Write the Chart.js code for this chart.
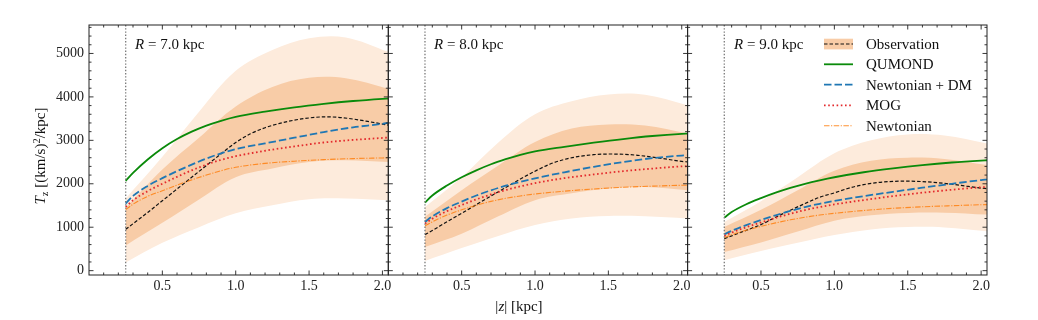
<!DOCTYPE html>
<html><head><meta charset="utf-8">
<script src="https://cdn.jsdelivr.net/npm/chart.js@4/dist/chart.umd.min.js"></script>
<style>
body{margin:0;background:#fff;width:1038px;height:320px;overflow:hidden;position:relative;}
canvas{position:absolute;left:0;top:0;}
svg{position:absolute;left:0;top:0;pointer-events:none;}
svg text{font-family:"Liberation Serif",serif;font-size:15px;fill:#111;}
</style></head><body>
<canvas id="c1" width="1038" height="320"></canvas>
<canvas id="c2" width="1038" height="320"></canvas>
<canvas id="c3" width="1038" height="320"></canvas>
<svg width="1038" height="320" id="ov">
  <text transform="translate(45,156) rotate(-90)" text-anchor="middle"><tspan font-style="italic">T</tspan><tspan dy="3" font-size="10.5">z</tspan><tspan dy="-3"> [(km/s)</tspan><tspan dy="-5" font-size="10.5">2</tspan><tspan dy="5">/kpc]</tspan></text>
  <text x="519" y="311" text-anchor="middle">|<tspan font-style="italic">z</tspan>| [kpc]</text>
  <text x="135" y="49"><tspan font-style="italic">R</tspan> = 7.0 kpc</text>
  <text x="434" y="49"><tspan font-style="italic">R</tspan> = 8.0 kpc</text>
  <text x="734" y="49"><tspan font-style="italic">R</tspan> = 9.0 kpc</text>
  <rect x="824" y="38.7" width="29" height="10.7" fill="#f8cca7"/>
  <line x1="824" y1="44" x2="853" y2="44" stroke="#111" stroke-width="1.2" stroke-dasharray="3.5 2"/>
  <line x1="824" y1="64.3" x2="853" y2="64.3" stroke="#0a8a0a" stroke-width="1.8"/>
  <line x1="824" y1="84.7" x2="853" y2="84.7" stroke="#1f77b4" stroke-width="1.8" stroke-dasharray="7.5 3"/>
  <line x1="824" y1="105.3" x2="853" y2="105.3" stroke="#e3292c" stroke-width="1.8" stroke-dasharray="1.6 2.6"/>
  <line x1="824" y1="125.7" x2="853" y2="125.7" stroke="rgba(255,127,14,0.85)" stroke-width="1.1" stroke-dasharray="5.5 1.5 1.2 1.5"/>
  <text x="866" y="49">Observation</text>
  <text x="866" y="69.3">QUMOND</text>
  <text x="866" y="89.7">Newtonian + DM</text>
  <text x="866" y="110.3">MOG</text>
  <text x="866" y="130.7">Newtonian</text>
</svg>
<script>
// ---- data ----
const zLine = [0.25,0.3,0.4,0.5,0.6,0.7,0.8,0.9,1.0,1.2,1.4,1.6,1.8,2.0,2.04];
const zObs  = [0.25,0.3,0.4,0.5,0.6,0.7,0.8,0.9,1.0,1.1,1.2,1.3,1.4,1.5,1.6,1.7,1.8,1.9,2.0,2.04];
const zBand = [0.25,0.5,0.75,1.0,1.25,1.5,1.75,2.04];
const zCut = 0.25;
const xTickLabels = [0.5,1.0,1.5,2.0];
const yTickLabels = [0,1000,2000,3000,4000,5000];

// R = 7 kpc
const qumond7 = [2066,2250,2560,2820,3030,3200,3340,3450,3540,3660,3760,3840,3905,3955,3963];
const newtdm7 = [1544,1720,1950,2130,2290,2440,2580,2700,2800,2930,3060,3190,3300,3380,3402];
const mog7    = [1467,1620,1830,2000,2160,2310,2440,2550,2635,2760,2860,2950,3010,3055,3064];
const newt7   = [1405,1530,1710,1840,1970,2090,2200,2300,2380,2470,2520,2555,2580,2595,2598];
const obs7    = [952,1080,1340,1610,1880,2150,2420,2690,2950,3150,3290,3390,3465,3515,3540,3530,3490,3435,3375,3349];
const lightHi7 = [1660,2620,3660,4600,5080,5350,5370,5040];
const lightLo7 = [190,640,1000,1320,1505,1645,1660,1620];
const darkHi7  = [1450,2330,3060,3780,4230,4440,4430,4190];
const darkLo7  = [580,1100,1640,2150,2350,2500,2540,2500];

// R = 8 kpc
const qumond8 = [1567,1730,1960,2150,2310,2450,2565,2665,2745,2850,2945,3030,3100,3150,3156];
const newtdm8 = [1121,1250,1440,1590,1730,1850,1955,2045,2125,2265,2390,2500,2590,2650,2657];
const mog8    = [1083,1195,1370,1510,1640,1755,1855,1940,2015,2130,2215,2290,2350,2400,2404];
const newt8   = [1029,1125,1280,1400,1505,1595,1665,1720,1765,1830,1880,1920,1945,1965,1966];
const obs8    = [829,925,1125,1320,1520,1718,1915,2110,2290,2450,2560,2630,2670,2685,2680,2655,2615,2565,2515,2504];
const lightHi8 = [1467,2150,2950,3600,3900,4055,4050,3810];
const lightLo8 = [223,520,800,1050,1200,1260,1250,1200];
const darkHi8  = [1240,1850,2420,2960,3270,3365,3340,3160];
const darkLo8  = [545,850,1250,1620,1780,1890,1925,1850];

// R = 9 kpc
const qumond9 = [1221,1350,1530,1670,1795,1905,2000,2080,2150,2265,2355,2430,2490,2535,2542];
const newtdm9 = [837,915,1050,1165,1275,1375,1465,1540,1605,1715,1815,1910,2000,2085,2097];
const mog9    = [799,875,1000,1110,1215,1310,1395,1465,1525,1625,1715,1795,1862,1920,1928];
const newt9   = [760,825,930,1020,1100,1170,1230,1280,1320,1385,1435,1470,1495,1518,1520];
const obs9    = [737,800,930,1060,1230,1390,1545,1690,1790,1900,1980,2030,2055,2060,2050,2025,1990,1945,1900,1889];
const lightHi9 = [1120,1600,2150,2700,3000,3135,3110,2925];
const lightLo9 = [238,450,640,820,950,1005,995,906];
const darkHi9  = [1006,1400,1850,2300,2530,2600,2570,2430];
const darkLo9  = [430,650,900,1150,1275,1330,1335,1290];

// ---- style / layout ----
const FONT = '"Liberation Serif", serif';
const LIGHT = '#fdebdc', DARK = '#f8cca7';
const panelLeft = [89, 388.3, 687.6], panelRight = [388.3, 687.6, 987];

const panels = [
  {qumond:qumond7,newtdm:newtdm7,mog:mog7,newt:newt7,obs:obs7,lightHi:lightHi7,lightLo:lightLo7,darkHi:darkHi7,darkLo:darkLo7},
  {qumond:qumond8,newtdm:newtdm8,mog:mog8,newt:newt8,obs:obs8,lightHi:lightHi8,lightLo:lightLo8,darkHi:darkHi8,darkLo:darkLo8},
  {qumond:qumond9,newtdm:newtdm9,mog:mog9,newt:newt9,obs:obs9,lightHi:lightHi9,lightLo:lightLo9,darkHi:darkHi9,darkLo:darkLo9}
];

const pts = (zs, vs) => zs.map((z, i) => ({x: z, y: vs[i]}));

const framePlugin = {
  id: 'frame',
  afterDatasetsDraw(chart) {
    const {ctx, chartArea: a, scales: {x, y}} = chart;
    ctx.save();
    const xv = x.getPixelForValue(zCut);
    ctx.strokeStyle = '#7a7a7a'; ctx.lineWidth = 1.3; ctx.setLineDash([1.4, 1.8]);
    ctx.beginPath(); ctx.moveTo(xv, a.top); ctx.lineTo(xv, a.bottom); ctx.stroke();
    ctx.setLineDash([]);
    ctx.strokeStyle = '#222'; ctx.lineWidth = 0.9;
    const MAJ = 4.5, MIN = 2.5;
    ctx.beginPath();
    for (let k = 1; k <= 20; k++) {
      const v = k / 10;
      const major = xTickLabels.some(t => Math.abs(t - v) < 1e-6);
      const L = major ? MAJ : MIN;
      const px = x.getPixelForValue(v);
      ctx.moveTo(px, a.bottom); ctx.lineTo(px, a.bottom - L);
      ctx.moveTo(px, a.top); ctx.lineTo(px, a.top + L);
    }
    for (let v = 0; v <= 5600; v += 200) {
      const major = v % 1000 === 0;
      const L = major ? MAJ : MIN;
      const py = y.getPixelForValue(v);
      ctx.moveTo(a.left, py); ctx.lineTo(a.left + L, py);
      ctx.moveTo(a.right, py); ctx.lineTo(a.right - L, py);
    }
    ctx.stroke();
    ctx.strokeStyle = '#222'; ctx.lineWidth = 1;
    ctx.strokeRect(a.left, a.top, a.right - a.left, a.bottom - a.top);
    ctx.restore();
  }
};

const none = 'rgba(0,0,0,0)';
const band = {borderColor: none, borderWidth: 0, cubicInterpolationMode: 'default', tension: 0.35};

panels.forEach((p, idx) => {
  const first = idx === 0;
  new Chart(document.getElementById('c' + (idx + 1)), {
    type: 'line',
    data: {datasets: [
      {...band, data: pts(zBand, p.lightHi), fill: '+1', backgroundColor: LIGHT, order: 5},
      {...band, data: pts(zBand, p.lightLo), fill: false, order: 5},
      {...band, data: pts(zBand, p.darkHi), fill: '+1', backgroundColor: DARK, order: 4},
      {...band, data: pts(zBand, p.darkLo), fill: false, order: 4},
      {data: pts(zObs, p.obs), borderColor: '#111', borderWidth: 1.2, borderDash: [3.5, 2], order: 1},
      {data: pts(zLine, p.newt), borderColor: 'rgba(255,127,14,0.85)', borderWidth: 1.1, borderDash: [5.5, 1.5, 1.2, 1.5], order: 0},
      {data: pts(zLine, p.mog), borderColor: '#e3292c', borderWidth: 1.8, borderDash: [1.6, 2.6], order: 0},
      {data: pts(zLine, p.newtdm), borderColor: '#1f77b4', borderWidth: 1.8, borderDash: [7.5, 3], order: 0},
      {data: pts(zLine, p.qumond), borderColor: '#0a8a0a', borderWidth: 1.8, order: 0}
    ]},
    options: {
      responsive: false, animation: false, events: [],
      layout: {padding: {left: first ? 40 : panelLeft[idx], right: 1038 - panelRight[idx], top: 25, bottom: 20}},
      elements: {point: {radius: 0}, line: {cubicInterpolationMode: 'monotone', fill: false}},
      plugins: {legend: {display: false}, tooltip: {enabled: false}},
      scales: {
        x: {type: 'linear', min: 0, max: 2.04,
            grid: {display: false, drawTicks: false}, border: {display: false},
            afterBuildTicks: s => { s.ticks = xTickLabels.map(v => ({value: v})); },
            afterFit: s => { s.height = 25; },
            ticks: {padding: 3, autoSkip: false, maxRotation: 0, color: '#222',
                    font: {size: 14, family: FONT}, callback: v => Number(v).toFixed(1)}},
        y: {type: 'linear', min: -100, max: 5655, display: first,
            grid: {display: false, drawTicks: false}, border: {display: false},
            afterBuildTicks: s => { s.ticks = yTickLabels.map(v => ({value: v})); },
            afterFit: s => { s.width = first ? 49 : 0; },
            ticks: {padding: 5, autoSkip: false, color: '#222',
                    font: {size: 14, family: FONT}, callback: v => String(v)}}
      }
    },
    plugins: [framePlugin]
  });
});
</script>
</body></html>
